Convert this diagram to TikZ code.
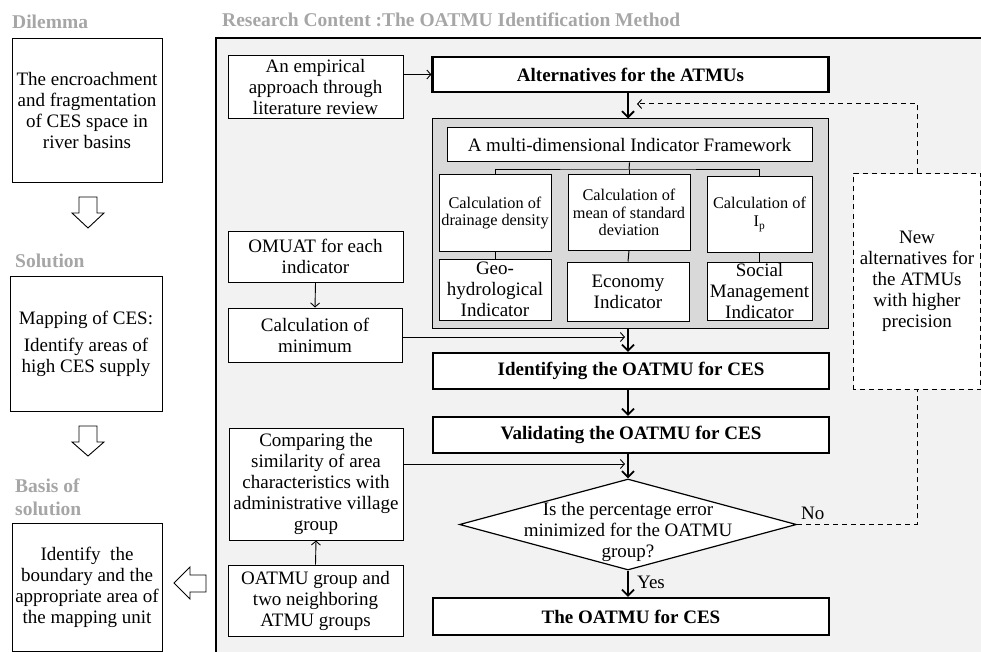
\documentclass[tikz,border=0pt]{standalone}
\usepackage{fontspec}
\setmainfont{Liberation Serif}
\usetikzlibrary{arrows.meta,shapes.geometric,calc}
\definecolor{headgray}{RGB}{166,166,166}
\definecolor{panelfill}{RGB}{242,242,242}
\definecolor{framefill}{RGB}{217,217,217}
\begin{document}
\begin{tikzpicture}[x=1pt,y=-1pt,
  font=\fontsize{19}{21}\selectfont,
  box/.style={draw, fill=white, line width=1pt, align=center, inner sep=0pt},
  thickbox/.style={box, line width=2.2pt, font=\bfseries\fontsize{19}{21}\selectfont},
  smalltext/.style={font=\fontsize{16.3}{17.5}\selectfont},
  heading/.style={text=headgray, font=\bfseries\fontsize{19.5}{23}\selectfont, anchor=west, inner sep=0pt, align=left},
  mainarrow/.style={line width=1.8pt, -{Straight Barb[length=6pt,width=12pt]}},
  thinarrow/.style={line width=0.9pt, -{Straight Barb[length=4pt,width=9pt]}},
  fbline/.style={line width=1pt, dash pattern=on 5pt off 4pt},
  hollow/.style={draw, fill=white, line width=0.9pt}
]
\useasboundingbox (0,0) rectangle (981,652);

% ---------------- left column ----------------
\node[heading] (hdil) at (12,22) {Dilemma};
\node[box, minimum width=150, minimum height=144] (dil) at (87,111)
  {The encroachment\\and fragmentation\\of CES space in\\river basins};
\draw[hollow] (79,197) -- (97,197) -- (97,213) -- (104,213) -- (88,228) -- (72,213) -- (79,213) -- cycle;

\node[heading] (hsol) at (15,261) {Solution};
\node[box, minimum width=152, minimum height=135] (sol) at (86,343.5)
  {Mapping of CES:\\[6pt]Identify areas of\\high CES supply};
\draw[hollow] (79,426) -- (97,426) -- (97,442) -- (104,442) -- (88,456) -- (72,442) -- (79,442) -- cycle;

\node[heading] (hbas) at (15,497) {Basis of\\solution};
\node[box, minimum width=150, minimum height=128] (bas) at (87,587)
  {Identify\ \ the\\boundary and the\\appropriate area of\\the mapping unit};
\draw[hollow] (174,583) -- (190,567) -- (190,575) -- (206,575) -- (206,592) -- (190,592) -- (190,599) -- cycle;

% ---------------- research panel ----------------
\node[heading] (hres) at (222,20) {Research Content :The OATMU Identification Method};
\fill[panelfill] (216,38) rectangle (981,652);
\draw[line width=1.5pt] (981,38) -- (216,38) -- (216,652);

\coordinate (sp) at (628,0);

\node[box, minimum width=175, minimum height=63] (emp) at (315.5,87.5)
  {An empirical\\approach through\\literature review};
\node[thickbox, minimum width=396, minimum height=35] (alt) at (630.5,74.5)
  {Alternatives for the ATMUs};

\node[draw, fill=framefill, line width=1pt, minimum width=396, minimum height=209, inner sep=0pt] (gp) at (630,223.5) {};
\node[box, minimum width=365, minimum height=34] (frame) at (629.5,145)
  {A multi-dimensional Indicator Framework};
\node[box, smalltext, minimum width=112, minimum height=76] (calcA) at (495,213)
  {Calculation of\\drainage density};
\node[box, smalltext, minimum width=122, minimum height=75] (calcB) at (629,212.5)
  {Calculation of\\mean of standard\\deviation};
\node[box, smalltext, minimum width=105, minimum height=75] (calcC) at (759.5,214.5)
  {Calculation of\\I\textsubscript{p}};
\node[box, minimum width=112, minimum height=61] (indA) at (495,289.5)
  {Geo-\\hydrological\\Indicator};
\node[box, minimum width=122, minimum height=59] (indB) at (628,291.5)
  {Economy\\Indicator};
\node[box, minimum width=105, minimum height=58] (indC) at (759.5,291)
  {Social\\Management\\Indicator};

\coordinate (tj) at (629,170);
\draw[line width=1pt] (frame.south) -- (tj);
\draw[line width=1pt] (calcA.north) |- (tj) -| (calcC.north);
\draw[line width=1pt] (calcB.north) -- (calcB.north |- tj);
\draw[line width=1pt] (calcA.south) -- (indA.north);
\draw[line width=1pt] (calcB.south) -- (indB.north);
\draw[line width=1pt] (calcC.south) -- (indC.north);

\node[box, minimum width=175, minimum height=51] (omuat) at (315.5,256.5)
  {OMUAT for each\\indicator};
\node[box, minimum width=174, minimum height=54] (calcmin) at (315,335)
  {Calculation of\\minimum};

\node[thickbox, minimum width=396, minimum height=36] (ident) at (631,371)
  {Identifying the OATMU for CES};
\node[thickbox, minimum width=396, minimum height=36] (valid) at (631,435)
  {Validating the OATMU for CES};

\node[box, minimum width=174, minimum height=112] (comp) at (316,484)
  {Comparing the\\similarity of area\\characteristics with\\administrative village\\group};
\node[box, minimum width=175, minimum height=71] (grp) at (315.5,600.5)
  {OATMU group and\\two neighboring\\ATMU groups};

\node[diamond, draw, fill=white, line width=1.2pt, inner sep=0pt,
      minimum width=337, minimum height=91] (dia) at (628,524.5) {};
\node[align=center, inner sep=0pt] (diat) at (628,532)
  {Is the percentage error\\minimized for the OATMU\\group?};

\node[thickbox, minimum width=396, minimum height=37] (final) at (631,616.5)
  {The OATMU for CES};

\node[box, draw=none, minimum width=126, minimum height=215] (newalt) at (917,281.5)
  {New\\alternatives for\\the ATMUs\\with higher\\precision};
\draw[fbline] (newalt.south west) rectangle (newalt.north east);

% ---------------- connectors ----------------
\draw[mainarrow] (alt.south -| sp) -- (gp.north -| sp);
\draw[mainarrow] (gp.south -| sp) -- (ident.north -| sp);
\draw[mainarrow] (ident.south -| sp) -- (valid.north -| sp);
\draw[mainarrow] (valid.south -| sp) -- (dia.north);
\draw[mainarrow] (dia.south) -- (final.north -| sp);

\draw[thinarrow] (emp.east |- alt.west) -- (alt.west);
\draw[thinarrow] (omuat.south) -- (calcmin.north);
\draw[thinarrow] ([yshift=-2pt]calcmin.east) -- ($([yshift=-2pt]calcmin.east -| sp)+(-3,0)$);
\draw[thinarrow] ([yshift=20pt]comp.east) -- ($([yshift=20pt]comp.east -| sp)+(-3,0)$);
\draw[thinarrow] (grp.north) -- (comp.south);

\coordinate (fbend) at (637,104);
\draw[fbline] (dia.east) -| (newalt.south);
\draw[fbline, -{Straight Barb[length=4pt,width=9pt]}] (newalt.north) |- (fbend);

\node[anchor=west, inner sep=0pt] (nolab) at (801,513) {No};
\node[anchor=west, inner sep=0pt] (yeslab) at (637,582) {Yes};
\end{tikzpicture}
\end{document}
